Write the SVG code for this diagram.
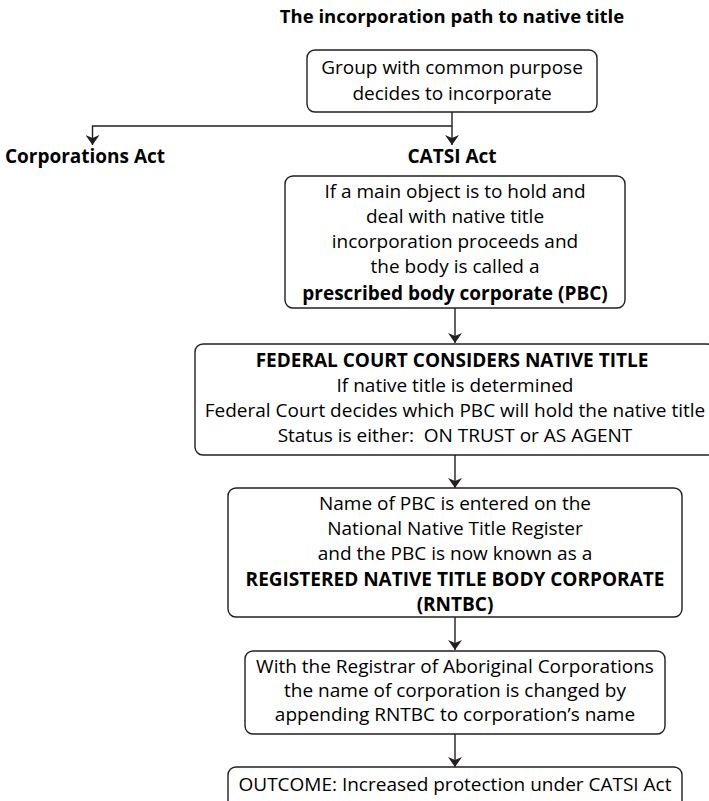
<svg xmlns="http://www.w3.org/2000/svg" width="709" height="801" viewBox="0 0 709 801">
<defs>
<style>
.box{fill:#fff;stroke:#231f20;stroke-width:1.4}
.t{font-family:"Open Sans","Noto Sans",sans-serif;font-size:19px;fill:#000;text-anchor:middle}
.b{font-weight:bold}
.h{font-size:18.5px}
.con{fill:none;stroke:#231f20;stroke-width:1.4}
</style>
<marker id="ah" viewBox="0 0 10 14" refX="10" refY="7" markerWidth="10" markerHeight="14" markerUnits="userSpaceOnUse" orient="auto">
<path d="M0,0 L10,7 L0,14 L3,7 z" fill="#231f20"/>
</marker>
</defs>
<rect width="709" height="801" fill="#fff"/>
<text class="t b h" x="452" y="23">The incorporation path to native title</text>
<g id="connectors">
<path class="con" d="M452,112 V126 H92.5 V145" marker-end="url(#ah)"/>
<path class="con" d="M452,126 V145" marker-end="url(#ah)"/>
<path class="con" d="M455,308 V343" marker-end="url(#ah)"/>
<path class="con" d="M455,455 V488" marker-end="url(#ah)"/>
<path class="con" d="M455,617 V650" marker-end="url(#ah)"/>
<path class="con" d="M455,734 V767" marker-end="url(#ah)"/>
</g>
<g id="n1">
<rect class="box" x="307" y="50" width="290" height="62" rx="8"/>
<text class="t" x="452" y="74">Group with common purpose</text>
<text class="t" x="452" y="100">decides to incorporate</text>
</g>
<g id="n-corp">
<text class="t b" x="85" y="163">Corporations Act</text>
</g>
<g id="n-catsi">
<text class="t b" x="452" y="163">CATSI Act</text>
</g>
<g id="n2">
<rect class="box" x="285" y="176" width="340" height="132" rx="8"/>
<text class="t" x="455" y="198">If a main object is to hold and</text>
<text class="t" x="455" y="223">deal with native title</text>
<text class="t" x="455" y="248">incorporation proceeds and</text>
<text class="t" x="455" y="273">the body is called a</text>
<text class="t b" x="455" y="300">prescribed body corporate (PBC)</text>
</g>
<g id="n3">
<rect class="box" x="195" y="344" width="520" height="111" rx="8"/>
<text class="t b" x="452" y="367">FEDERAL COURT CONSIDERS NATIVE TITLE</text>
<text class="t" x="455" y="392">If native title is determined</text>
<text class="t" x="455" y="417">Federal Court decides which PBC will hold the native title</text>
<text class="t" x="455" y="442">Status is either:&#160; ON TRUST or AS AGENT</text>
</g>
<g id="n4">
<rect class="box" x="228" y="488" width="454" height="129" rx="8"/>
<text class="t" x="455" y="510">Name of PBC is entered on the</text>
<text class="t" x="455" y="535">National Native Title Register</text>
<text class="t" x="455" y="560">and the PBC is now known as a</text>
<text class="t b" x="455" y="586">REGISTERED NATIVE TITLE BODY CORPORATE</text>
<text class="t b" x="455" y="611">(RNTBC)</text>
</g>
<g id="n5">
<rect class="box" x="245" y="651" width="420" height="83" rx="8"/>
<text class="t" x="455" y="673">With the Registrar of Aboriginal Corporations</text>
<text class="t" x="455" y="697">the name of corporation is changed by</text>
<text class="t" x="455" y="721">appending RNTBC to corporation’s name</text>
</g>
<g id="n6">
<rect class="box" x="228" y="767" width="454" height="50" rx="8"/>
<text class="t" x="455" y="791">OUTCOME: Increased protection under CATSI Act</text>
</g>
</svg>
